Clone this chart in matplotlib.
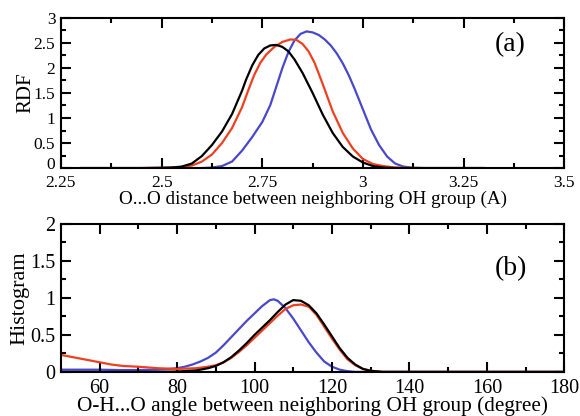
import matplotlib
matplotlib.use("Agg")
import matplotlib.pyplot as plt
import matplotlib.transforms as mtransforms
from matplotlib.ticker import MultipleLocator

plt.rcParams['font.family'] = ['Liberation Serif', 'DejaVu Serif']

# ---- Panel (a): O...O RDF ----
rdf_black_x = [2.30, 2.45, 2.50, 2.525, 2.55, 2.575, 2.60, 2.625, 2.65, 2.675, 2.70, 2.71, 2.725,
               2.74, 2.755, 2.77, 2.785, 2.80, 2.815, 2.83, 2.85, 2.875, 2.90, 2.925, 2.95,
               2.975, 3.00, 3.025, 3.05, 3.08, 3.30]
rdf_black_y = [0.0, 0.0, 0.005, 0.01, 0.03, 0.09, 0.24, 0.46, 0.73, 1.08, 1.55, 1.77, 2.05,
               2.26, 2.39, 2.45, 2.46, 2.42, 2.33, 2.17, 1.90, 1.50, 1.07, 0.70, 0.42,
               0.23, 0.11, 0.04, 0.01, 0.0, 0.0]

rdf_red_x = [2.30, 2.45, 2.50, 2.55, 2.575, 2.60, 2.625, 2.65, 2.675, 2.70, 2.715, 2.73, 2.745,
             2.76, 2.78, 2.80, 2.82, 2.835, 2.85, 2.865, 2.88, 2.90, 2.925, 2.95, 2.975,
             3.00, 3.025, 3.05, 3.075, 3.10, 3.15, 3.30]
rdf_red_y = [0.0, 0.0, 0.005, 0.02, 0.05, 0.13, 0.27, 0.50, 0.80, 1.22, 1.55, 1.86, 2.10,
             2.27, 2.42, 2.52, 2.57, 2.56, 2.48, 2.33, 2.10, 1.68, 1.13, 0.70, 0.39,
             0.18, 0.08, 0.04, 0.015, 0.005, 0.0, 0.0]

rdf_blue_x = [2.30, 2.60, 2.625, 2.65, 2.675, 2.70, 2.725, 2.75, 2.77, 2.785, 2.80, 2.815,
              2.83, 2.845, 2.86, 2.875, 2.89, 2.905, 2.92, 2.935, 2.95, 2.965, 2.98, 3.00,
              3.02, 3.04, 3.06, 3.08, 3.10, 3.125, 3.15, 3.30]
rdf_blue_y = [0.0, 0.0, 0.01, 0.04, 0.13, 0.35, 0.62, 0.92, 1.26, 1.63, 2.00, 2.32,
              2.55, 2.68, 2.73, 2.71, 2.66, 2.57, 2.45, 2.29, 2.09, 1.85, 1.57, 1.17,
              0.77, 0.46, 0.23, 0.09, 0.03, 0.005, 0.0, 0.0]

# ---- Panel (b): O-H...O angle histogram ----
ang_blue_x = [50, 55, 60, 65, 70, 75, 78, 80, 82, 84, 86, 88, 90, 92, 94, 96, 98, 100, 102,
              104, 105, 106, 108, 110, 112, 114, 116, 118, 120, 122, 124, 126, 180]
ang_blue_y = [0.03, 0.03, 0.03, 0.025, 0.025, 0.03, 0.04, 0.05, 0.07, 0.10, 0.14, 0.19, 0.26,
              0.36, 0.47, 0.58, 0.69, 0.79, 0.89, 0.97, 0.98, 0.96, 0.86, 0.72, 0.56, 0.40,
              0.26, 0.14, 0.07, 0.03, 0.01, 0.0, 0.0]

ang_black_x = [50, 75, 80, 85, 88, 90, 92, 94, 96, 98, 100, 102, 104, 106, 108, 110, 112, 114,
               116, 118, 120, 122, 124, 126, 128, 130, 133, 180]
ang_black_y = [0.0, 0.0, 0.005, 0.02, 0.05, 0.08, 0.13, 0.20, 0.29, 0.39, 0.50, 0.60, 0.70,
               0.81, 0.91, 0.97, 0.96, 0.90, 0.79, 0.64, 0.48, 0.32, 0.19, 0.10, 0.04, 0.015,
               0.0, 0.0]

ang_red_x = [50, 52, 55, 58, 60, 63, 66, 70, 75, 80, 85, 88, 90, 92, 94, 96, 98, 100, 102, 104,
             106, 108, 110, 112, 114, 116, 118, 120, 122, 124, 126, 128, 130, 133, 180]
ang_red_y = [0.23, 0.21, 0.18, 0.15, 0.13, 0.10, 0.08, 0.07, 0.05, 0.04, 0.05, 0.07, 0.09,
             0.13, 0.19, 0.27, 0.36, 0.46, 0.56, 0.66, 0.76, 0.85, 0.90, 0.91, 0.88, 0.77,
             0.61, 0.45, 0.30, 0.17, 0.09, 0.04, 0.015, 0.0, 0.0]

BLACK = '#000000'
RED = '#ee4020'
BLUE = '#4848cc'

fig = plt.figure(figsize=(5.8, 4.16), dpi=100)
ax1 = fig.add_axes([0.105, 0.596, 0.868, 0.361])
ax2 = fig.add_axes([0.105, 0.106, 0.868, 0.356])

lw = 1.6
ax1.plot(rdf_blue_x, rdf_blue_y, color=BLUE, lw=lw, zorder=1)
ax1.plot(rdf_red_x, rdf_red_y, color=RED, lw=lw, zorder=2)
ax1.plot(rdf_black_x, rdf_black_y, color=BLACK, lw=lw, zorder=3)

ax2.plot(ang_blue_x, ang_blue_y, color=BLUE, lw=lw, zorder=1)
ax2.plot(ang_red_x, ang_red_y, color=RED, lw=lw, zorder=2)
ax2.plot(ang_black_x, ang_black_y, color=BLACK, lw=lw, zorder=3)

ax1.set_xlim(2.25, 3.5)
ax1.set_ylim(0, 3)
ax1.xaxis.set_minor_locator(MultipleLocator(0.125))
ax1.yaxis.set_minor_locator(MultipleLocator(0.25))
ax1.set_xticks([2.25, 2.5, 2.75, 3.0, 3.25, 3.5])
ax1.set_xticklabels(['2.25', '2.5', '2.75', '3', '3.25', '3.5'])
ax1.set_yticks([0, 0.5, 1, 1.5, 2, 2.5, 3])
ax1.set_yticklabels(['0', '0.5', '1', '1.5', '2', '2.5', '3'])
ax1.set_xlabel('O...O distance between neighboring OH group (A)', fontsize=13.8, labelpad=0)
ax1.set_ylabel('RDF', fontsize=15, labelpad=-1)
ax1.text(0.893, 0.82, '(a)', transform=ax1.transAxes, fontsize=20, ha='center', va='center')

ax2.set_xlim(50, 180)
ax2.set_ylim(0, 2)
ax2.xaxis.set_major_locator(MultipleLocator(20))
ax2.xaxis.set_minor_locator(MultipleLocator(10))
ax2.yaxis.set_minor_locator(MultipleLocator(0.25))
ax2.set_yticks([0, 0.5, 1, 1.5, 2])
ax2.set_yticklabels(['0', '0.5', '1', '1.5', '2'])
ax2.set_xlabel('O-H...O angle between neighboring OH group (degree)', fontsize=15.3, labelpad=-1)
ax2.set_ylabel('Histogram', fontsize=16, labelpad=0.5)
ax2.text(0.893, 0.70, '(b)', transform=ax2.transAxes, fontsize=20, ha='center', va='center')

for ax, ls in ((ax1, 12.5), (ax2, 14.5)):
    for s in ax.spines.values():
        s.set_linewidth(1.5)
    ax.tick_params(which='both', direction='in', top=True, right=True, width=1.5,
                   labelsize=ls)
    ax.tick_params(which='major', length=7.5)
    ax.tick_params(which='minor', length=3.8)
    ax.tick_params(axis='y', pad=4)
ax1.tick_params(axis='x', pad=5)
ax2.tick_params(axis='x', pad=5)

# nudge the "0" label of panel (a) up slightly so it does not collide with "2.25"
lbl0 = ax1.get_yticklabels()[0]
lbl0.set_transform(lbl0.get_transform() +
                   mtransforms.ScaledTranslation(0, 3.5 / 72, fig.dpi_scale_trans))

fig.savefig('out.png', dpi=100)
